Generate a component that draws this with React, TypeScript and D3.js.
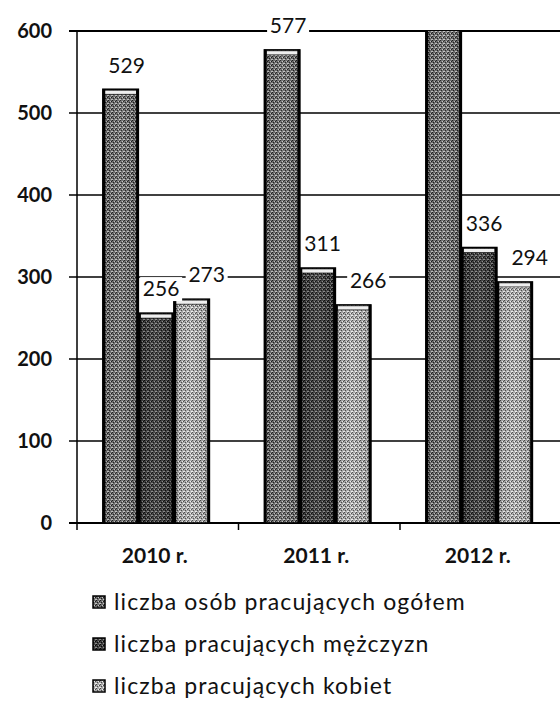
import React from "react";
import * as d3 from "d3";

const categories = ["2010 r.", "2011 r.", "2012 r."];
const seriesNames = [
  "liczba osób pracujących ogółem",
  "liczba pracujących mężczyzn",
  "liczba pracujących kobiet",
];
const totalValues = [529, 577, 630];
const menValues = [256, 311, 336];
const womenValues = [273, 266, 294];
const yTicks = [0, 100, 200, 300, 400, 500, 600];

const W = 560;
const H = 726;
const plotLeft = 77;
const plotRight = 561.5;
const plotTop = 31;
const plotBottom = 523;
const yMax = 600;
const FONT = "Lato, 'Open Sans', sans-serif";

const seriesStyle = [
  { base: "#6c6c6c", dark: "#1e1e1e", light: "#c4c4c4", labelDx: 6 },
  { base: "#3e3e3e", dark: "#080808", light: "#8a8a8a", labelDx: 5 },
  { base: "#a8a8a8", dark: "#4a4a4a", light: "#f0f0f0", labelDx: 15 },
];

export default function App() {
  const series = [totalValues, menValues, womenValues];
  const y = d3.scaleLinear().domain([0, yMax]).range([plotBottom, plotTop]);
  const x = d3.scaleBand<string>().domain(categories).range([plotLeft, plotRight]).padding(0);
  const bw = x.bandwidth();
  const inner = d3
    .scaleBand<number>()
    .domain([0, 1, 2])
    .range([bw * 0.16, bw * 0.82])
    .padding(0);

  return (
    <svg
      width={W}
      height={H}
      viewBox={`0 0 ${W} ${H}`}
      style={{ position: "absolute", left: 0, top: 0, background: "#fff" }}
    >
      <defs>
        {seriesStyle.map((s, i) => (
          <pattern key={i} id={`pat${i}`} width={4} height={4} patternUnits="userSpaceOnUse">
            <rect width={4} height={4} fill={s.base} />
            <rect x={0} y={0} width={1} height={1} fill={s.dark} />
            <rect x={2} y={1} width={1} height={1} fill={s.light} />
            <rect x={1} y={2} width={1} height={1} fill={s.dark} />
            <rect x={3} y={3} width={1} height={1} fill={s.light} />
            <rect x={3} y={1} width={1} height={1} fill={s.dark} />
            <rect x={0} y={3} width={1} height={1} fill={s.light} />
          </pattern>
        ))}
        <linearGradient id="shade" x1="0" x2="1" y1="0" y2="0">
          <stop offset="0" stopColor="#000" stopOpacity={0.45} />
          <stop offset="0.12" stopColor="#000" stopOpacity={0.05} />
          <stop offset="0.5" stopColor="#fff" stopOpacity={0.08} />
          <stop offset="0.88" stopColor="#000" stopOpacity={0.05} />
          <stop offset="1" stopColor="#000" stopOpacity={0.5} />
        </linearGradient>
        <clipPath id="plotClip">
          <rect x={plotLeft} y={plotTop} width={W - plotLeft} height={plotBottom - plotTop + 2} />
        </clipPath>
      </defs>

      {/* gridlines */}
      {yTicks.map((t) => (
        <line
          key={t}
          x1={plotLeft - 8}
          x2={W}
          y1={y(t)}
          y2={y(t)}
          stroke="#000"
          strokeWidth={t === 0 || t === yMax ? 2 : 1.5}
        />
      ))}

      {/* y axis */}
      <line x1={plotLeft} x2={plotLeft} y1={plotTop} y2={plotBottom + 7} stroke="#000" strokeWidth={1.5} />
      {categories.map((c) => (
        <line
          key={c}
          x1={(x(c) as number) + bw}
          x2={(x(c) as number) + bw}
          y1={plotBottom}
          y2={plotBottom + 7}
          stroke="#000"
          strokeWidth={1.5}
        />
      ))}

      {yTicks.map((t) => (
        <text
          key={t}
          x={52}
          y={y(t)}
          dy="0.35em"
          textAnchor="end"
          fontFamily={FONT}
          fontSize={20}
          fontWeight={700}
          fill="#111"
        >
          {t}
        </text>
      ))}

      {/* bars */}
      <g clipPath="url(#plotClip)">
        {categories.map((c, ci) =>
          series.map((vals, si) => {
            const bx = (x(c) as number) + (inner(si) as number);
            const w = inner.bandwidth();
            const top = y(vals[ci]);
            const h = plotBottom - top;
            return (
              <g key={`${c}-${si}`}>
                <rect x={bx} y={top} width={w} height={h} fill={`url(#pat${si})`} />
                <rect x={bx} y={top} width={w} height={h} fill="url(#shade)" />
                <rect x={bx} y={top} width={w} height={h} fill="none" stroke="#000" strokeWidth={1.5} />
                <rect x={bx + 2} y={top + 1} width={w - 4} height={4} fill="#eeeeee" stroke="#000" strokeWidth={0.6} />
                <line x1={bx + 1} x2={bx + 1} y1={top} y2={plotBottom} stroke="#000" strokeWidth={2.5} />
                <line x1={bx + w - 1} x2={bx + w - 1} y1={top} y2={plotBottom} stroke="#000" strokeWidth={2.5} />
              </g>
            );
          })
        )}
      </g>

      {/* value labels (values beyond the axis fall outside the picture) */}
      {categories.map((c, ci) =>
        series.map((vals, si) => {
          const v = vals[ci];
          if (v > yMax) return null;
          const cx = (x(c) as number) + (inner(si) as number) + inner.bandwidth() / 2 + seriesStyle[si].labelDx;
          const cy = y(v) - 24;
          return (
            <g key={`l-${c}-${si}`}>
              <rect x={cx - 21} y={cy - 12} width={42} height={24} fill="#fff" />
              <text
                x={cx}
                y={cy}
                dy="0.35em"
                textAnchor="middle"
                fontFamily={FONT}
                fontSize={21}
                fill="#111"
              >
                {String(v)}
              </text>
            </g>
          );
        })
      )}

      {/* category labels */}
      {categories.map((c) => (
        <text
          key={c}
          x={(x(c) as number) + bw / 2 - 3}
          y={563}
          textAnchor="middle"
          fontFamily={FONT}
          fontSize={21}
          fontWeight={700}
          fill="#111"
        >
          {c}
        </text>
      ))}

      {/* legend */}
      {seriesNames.map((n, i) => {
        const ly = 602 + i * 42;
        return (
          <g key={n}>
            <rect x={93} y={ly - 6} width={12} height={12} fill={`url(#pat${i})`} stroke="#000" strokeWidth={1.5} />
            <text
              x={114}
              y={ly}
              dy="0.35em"
              fontFamily={FONT}
              fontSize={23}
              letterSpacing={1.1}
              fill="#111"
            >
              {n}
            </text>
          </g>
        );
      })}
    </svg>
  );
}
